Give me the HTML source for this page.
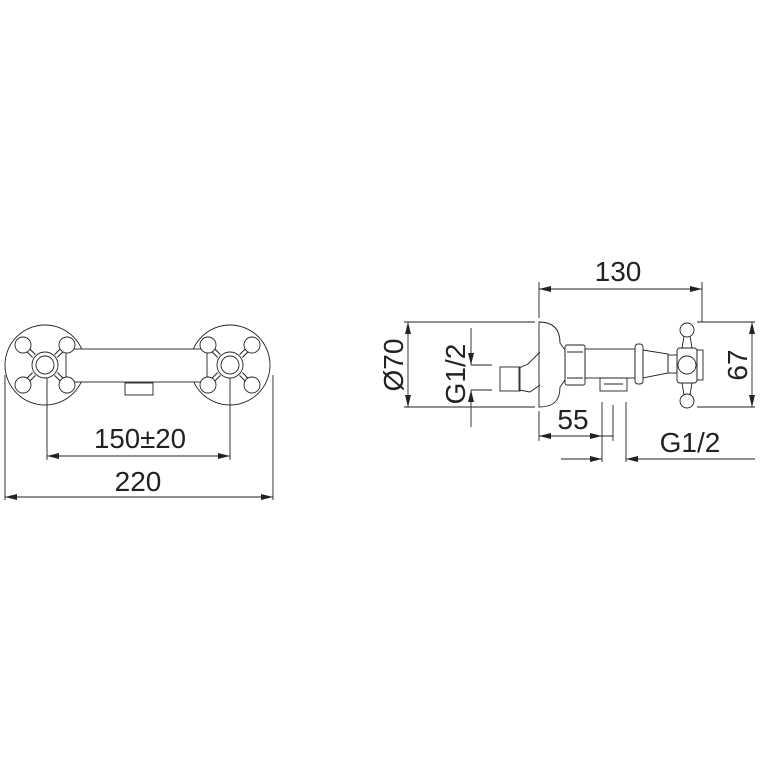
<!DOCTYPE html>
<html><head><style>html,body{margin:0;padding:0;background:#fff}svg{display:block}</style></head><body>
<svg width="762" height="762" viewBox="0 0 762 762" xmlns="http://www.w3.org/2000/svg">
<defs>
<marker id="a" viewBox="0 0 12 6" refX="12" refY="3" markerWidth="12" markerHeight="6" orient="auto-start-reverse" markerUnits="userSpaceOnUse"><path d="M0,0 L12,3 L0,6 z" fill="#222"/></marker>
</defs>
<g fill="none" stroke="#222" stroke-width="0.9">
<circle cx="45" cy="365" r="40"/>
<circle cx="230" cy="365" r="40"/>
<rect x="66" y="349" width="141" height="33" fill="#fff"/>
<g id="cross">
<path d="M34,356 L26,348 M56,356 L64,348 M34,374 L26,382 M56,374 L64,382" stroke-width="5" stroke="#222"/>
<path d="M34,356 L26,348 M56,356 L64,348 M34,374 L26,382 M56,374 L64,382" stroke-width="3" stroke="#fff"/>
<circle cx="23" cy="345" r="8" fill="#fff"/><circle cx="67" cy="345" r="8" fill="#fff"/><circle cx="23" cy="385" r="8" fill="#fff"/><circle cx="67" cy="385" r="8" fill="#fff"/>
<circle cx="45" cy="365" r="13" fill="#fff"/><circle cx="45" cy="365" r="9"/>
</g>
<use href="#cross" transform="translate(185,0)"/>
<rect x="125" y="383" width="28" height="12"/>
<path d="M5,375 V500 M273,375 V500 M47,378 V460 M230,378 V460"/>
<line x1="47" y1="456" x2="230" y2="456" marker-start="url(#a)" marker-end="url(#a)"/>
<line x1="5" y1="497" x2="273" y2="497" marker-start="url(#a)" marker-end="url(#a)"/>
<path d="M539,322 C556,322 560,332 560,343 L565,350 L565,380 L560,387 C560,398 556,407 539,407 Z" fill="#fff"/>
<path d="M540,352 L528,364 L519,368 L519,390 L530,392 L540,385"/>
<rect x="500" y="367" width="20" height="24"/>
<rect x="565" y="345" width="20" height="40" rx="2"/>
<path d="M567,352 H583 M567,378 H583"/>
<rect x="585" y="349" width="50" height="29"/>
<rect x="635" y="344" width="8" height="40" rx="3"/>
<path d="M643,350 L668,354 L668,373 L643,378 Z"/>
<rect x="668" y="355" width="9" height="18"/>
<rect x="600" y="378" width="27" height="13"/>
<path d="M604,384 H623"/>
<rect x="677" y="348" width="20" height="35" rx="3"/>
<circle cx="687" cy="365" r="9"/>
<path d="M682,348 L684,336 M692,348 L690,336 M682,383 L684,395 M692,383 L690,395"/>
<circle cx="687" cy="330" r="7"/><circle cx="687" cy="401" r="7"/>
<rect x="697" y="350" width="6" height="30"/>
<path d="M539,282 V318 M702,282 V322"/>
<line x1="539" y1="289" x2="702" y2="289" marker-start="url(#a)" marker-end="url(#a)"/>
<path d="M404,322 H535 M404,407 H535"/>
<line x1="408" y1="322" x2="408" y2="407" marker-start="url(#a)" marker-end="url(#a)"/>
<path d="M471,365 H492 M471,390 H492"/>
<line x1="471" y1="328" x2="471" y2="365" marker-end="url(#a)"/>
<line x1="471" y1="427" x2="471" y2="390" marker-end="url(#a)"/>
<path d="M697,322 H755 M697,407 H755"/>
<line x1="752" y1="322" x2="752" y2="407" marker-start="url(#a)" marker-end="url(#a)"/>
<path d="M539,411 V441 M613,405 V441 M602,402 V462 M626,402 V462"/>
<line x1="539" y1="436" x2="613" y2="436" marker-start="url(#a)"/>
<line x1="539" y1="436" x2="602" y2="436" marker-end="url(#a)"/>
<line x1="561" y1="459" x2="602" y2="459" marker-end="url(#a)"/>
<line x1="755" y1="459" x2="626" y2="459" marker-end="url(#a)"/>
</g>
<g font-family="Liberation Sans, sans-serif" font-size="28" fill="#222" text-anchor="middle">
<text x="140" y="448" textLength="92" lengthAdjust="spacingAndGlyphs">150±20</text>
<text x="138" y="491">220</text>
<text x="618" y="281">130</text>
<text x="573" y="429">55</text>
<text x="690" y="452">G1/2</text>
<text transform="translate(403,365) rotate(-90)">Ø70</text>
<text transform="translate(465,374) rotate(-90)">G1/2</text>
<text transform="translate(747,365) rotate(-90)">67</text>
</g>
</svg>
</body></html>
